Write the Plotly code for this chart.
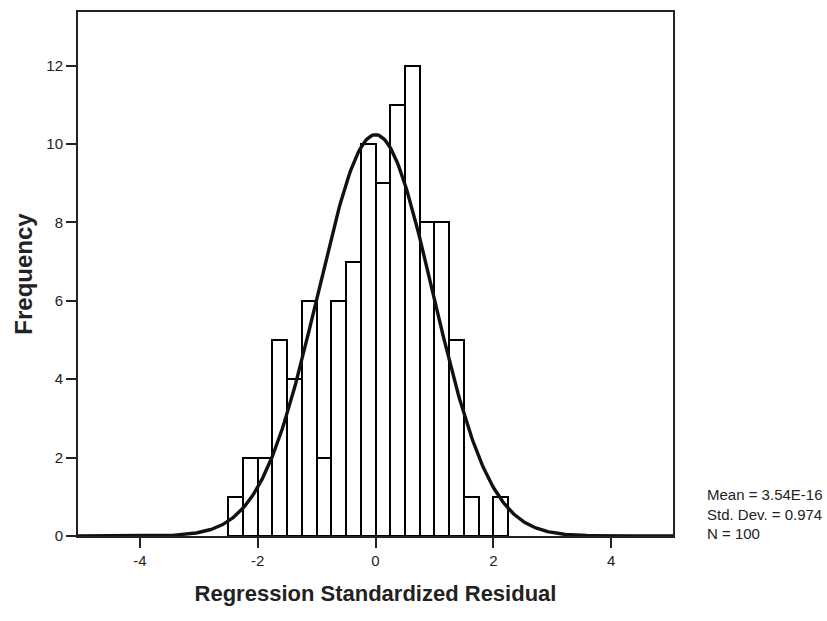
import numpy as np
import plotly.graph_objects as go

# Histogram bins (left edges) and frequencies
bin_width = 0.25
bin_left = [-2.5, -2.25, -2.0, -1.75, -1.5, -1.25, -1.0, -0.75, -0.5, -0.25,
            0.0, 0.25, 0.5, 0.75, 1.0, 1.25, 1.5, 1.75, 2.0]
freq = [1, 2, 2, 5, 4, 6, 2, 6, 7, 10, 9, 11, 12, 8, 8, 5, 1, 0, 1]

# Summary statistics shown on the chart
mean_val = 3.54e-16
std_val = 0.974
n_val = 100

x_ticks = [-4, -2, 0, 2, 4]
y_ticks = [0, 2, 4, 6, 8, 10, 12]

centers = [b + bin_width / 2 for b in bin_left]

# Fitted normal curve from displayed mean / sd
xs = np.linspace(-5.05, 5.05, 400)
ys = n_val * bin_width / (std_val * np.sqrt(2 * np.pi)) * np.exp(-0.5 * ((xs - mean_val) / std_val) ** 2)

fig = go.Figure()
fig.add_trace(go.Bar(
    x=centers, y=freq, width=bin_width,
    marker=dict(color="white", line=dict(color="black", width=2)),
    showlegend=False, hoverinfo="x+y",
))
fig.add_trace(go.Scatter(
    x=xs, y=ys, mode="lines",
    line=dict(color="#111111", width=3.4),
    showlegend=False,
))

font_family = "Liberation Sans Narrow, Arial Narrow, Liberation Sans, Arial, sans-serif"

fig.update_layout(
    width=827, height=621,
    margin=dict(l=78, r=154, t=10, b=85),
    paper_bgcolor="white", plot_bgcolor="white",
    bargap=0,
    font=dict(family=font_family, color="#222222", size=15),
    xaxis=dict(
        range=[-5.05, 5.05], tickvals=x_ticks, ticktext=[str(v) for v in x_ticks],
        ticks="outside", ticklen=10, tickwidth=2, tickcolor="#222222",
        showline=True, linecolor="#222222", linewidth=2, mirror=True,
        showgrid=False, zeroline=False,
        tickfont=dict(size=15, family=font_family),
        title=dict(text="<b>Regression Standardized Residual</b>",
                   font=dict(size=22, family=font_family), standoff=18),
    ),
    yaxis=dict(
        range=[0, 13.37], tickvals=y_ticks, ticktext=[str(v) for v in y_ticks],
        ticks="outside", ticklen=10, tickwidth=2, tickcolor="#222222",
        showline=True, linecolor="#222222", linewidth=2, mirror=True,
        showgrid=False, zeroline=False,
        tickfont=dict(size=15, family=font_family),
        title=dict(text="<b>Frequency</b>",
                   font=dict(size=24, family=font_family), standoff=7),
    ),
    annotations=[dict(
        x=1.053, y=0.042, xref="paper", yref="paper", xanchor="left", yanchor="middle",
        align="left", showarrow=False,
        text=f"Mean = 3.54E-16<br>Std. Dev. = {std_val}<br>N = {n_val}",
        font=dict(size=15, family=font_family, color="#222222"),
    )],
)

fig.write_html("out.html")
